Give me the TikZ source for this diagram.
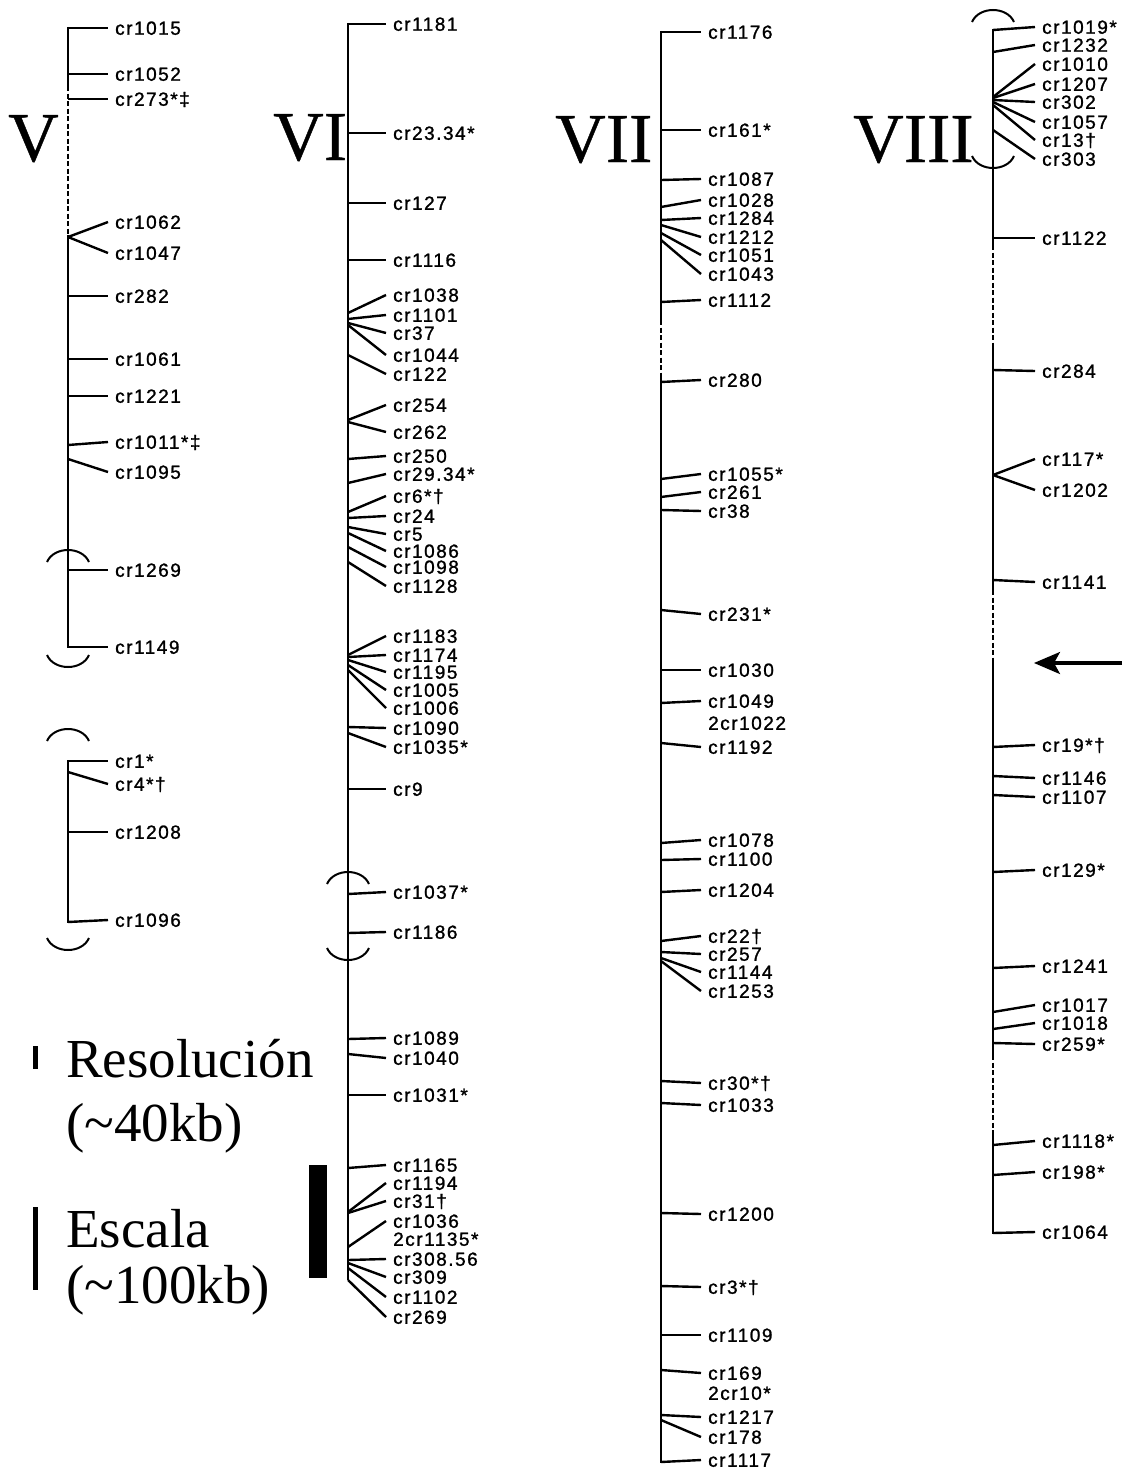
\documentclass[tikz,border=0pt]{standalone}
\usepackage{fontspec}
\setmainfont{Liberation Serif}
\newfontfamily\labfont[LetterSpace=8,FakeBold=1.2]{Liberation Sans}
\newfontfamily\bigfont[FakeBold=0.6]{Liberation Serif}
\usetikzlibrary{arrows.meta}
\begin{document}
\begin{tikzpicture}[x=1pt,y=-1pt,
 lab/.style={anchor=west, inner sep=0pt, text height=13.5pt, text depth=0pt, font=\labfont\fontsize{19}{19}\selectfont},
 tick/.style={line width=2.4pt},
 chrom/.style={line width=2.2pt},
 gap/.style={line width=2pt, dash pattern=on 5pt off 2.5pt},
 roman/.style={anchor=base west, inner sep=0pt, font=\bigfont\fontsize{70}{70}\selectfont},
 legend/.style={anchor=base west, inner sep=0pt, font=\fontsize{55}{55}\selectfont},
 captop/.pic={\draw[line width=2pt] (-21,12) .. controls (-14,-4) and (14,-4) .. (21,12);},
 capbot/.pic={\draw[line width=2pt] (-21,-12) .. controls (-14,4) and (14,4) .. (21,-12);}
]
\useasboundingbox (0,0) rectangle (1124,1472);

% ---------- Chromosome V ----------
\node[roman] (nV) at (8,161) {V};
\draw[chrom] (68,27) -- (68,86);
\draw[gap] (68,86) -- (68,235);
\draw[chrom] (68,235) -- (68,648);
\draw[chrom] (68,760) -- (68,923);
\foreach \by/\ly/\t [count=\i] in {28/28/cr1015, 74/74/cr1052, 99/99/cr273*‡,
  237/222/cr1062, 237/253/cr1047, 296/296/cr282, 359/359/cr1061, 396/396/cr1221,
  445/442/cr1011*‡, 459/472/cr1095, 570/570/cr1269, 647/647/cr1149,
  761/761/cr1*, 772/784/cr4*†, 832/832/cr1208, 922/920/cr1096}{
  \node[lab] (V\i) at (115,\ly) {\t};
  \coordinate (Vb\i) at (68,\by);
  \draw[tick] (Vb\i) -- ([xshift=-7pt]V\i.west);
}
\pic at (68,550) {captop};
\pic at (68,667) {capbot};
\pic at (68,729) {captop};
\pic at (68,950) {capbot};

% ---------- Chromosome VI ----------
\node[roman] (nVI) at (273,160) {VI};
\draw[chrom] (348,23) -- (348,1280);
\foreach \by/\ly/\t [count=\i] in {24/24/cr1181, 133/133/cr23.34*, 203/203/cr127, 260/260/cr1116,
  313/295/cr1038, 319/315/cr1101, 323/333/cr37, 325/355/cr1044, 355/374/cr122,
  420/405/cr254, 422/432/cr262, 459/456/cr250, 483/474/cr29.34*, 512/496/cr6*†,
  518/516/cr24, 527/534/cr5, 533/551/cr1086, 547/567/cr1098, 562/586/cr1128,
  655/636/cr1183, 657/655/cr1174, 660/672/cr1195, 665/690/cr1005, 670/708/cr1006,
  727/728/cr1090, 733/747/cr1035*, 789/789/cr9, 894/892/cr1037*, 933/932/cr1186,
  1039/1038/cr1089, 1054/1058/cr1040, 1095/1095/cr1031*,
  1168/1165/cr1165, 1212/1183/cr1194, 1213/1201/cr31†, 1247/1221/cr1036,
  1260/1259/cr308.56, 1263/1277/cr309, 1268/1297/cr1102, 1280/1317/cr269}{
  \node[lab] (VI\i) at (393,\ly) {\t};
  \coordinate (VIb\i) at (348,\by);
  \draw[tick] (VIb\i) -- ([xshift=-7pt]VI\i.west);
}
\node[lab] (VIx) at (393,1239) {2cr1135*};
\pic at (348,872) {captop};
\pic at (348,960) {capbot};

% ---------- Chromosome VII ----------
\node[roman] (nVII) at (555,162) {VII};
\draw[chrom] (661,31) -- (661,320);
\draw[gap] (661,320) -- (661,378);
\draw[chrom] (661,378) -- (661,1463);
\foreach \by/\ly/\t [count=\i] in {32/32/cr1176, 130/130/cr161*, 180/179/cr1087,
  207/200/cr1028, 220/218/cr1284, 225/237/cr1212, 233/255/cr1051, 240/274/cr1043,
  302/300/cr1112, 382/380/cr280, 479/474/cr1055*, 497/492/cr261, 510/511/cr38,
  610/614/cr231*, 670/670/cr1030, 703/701/cr1049, 743/747/cr1192,
  843/840/cr1078, 860/859/cr1100, 892/890/cr1204, 941/936/cr22†, 952/954/cr257,
  958/972/cr1144, 961/991/cr1253, 1081/1083/cr30*†, 1103/1105/cr1033,
  1213/1214/cr1200, 1286/1287/cr3*†, 1335/1335/cr1109, 1370/1373/cr169,
  1415/1417/cr1217, 1420/1437/cr178, 1462/1460/cr1117}{
  \node[lab] (VII\i) at (708,\ly) {\t};
  \coordinate (VIIb\i) at (661,\by);
  \draw[tick] (VIIb\i) -- ([xshift=-7pt]VII\i.west);
}
\node[lab] (VIIx) at (708,723) {2cr1022};
\node[lab] (VIIy) at (708,1393) {2cr10*};

% ---------- Chromosome VIII ----------
\node[roman] (nVIII) at (853,162) {VIII};
\draw[chrom] (993,29) -- (993,245);
\draw[gap] (993,245) -- (993,345);
\draw[chrom] (993,345) -- (993,590);
\draw[gap] (993,590) -- (993,660);
\draw[chrom] (993,660) -- (993,1055);
\draw[gap] (993,1055) -- (993,1135);
\draw[chrom] (993,1135) -- (993,1234);
\foreach \by/\ly/\t [count=\i] in {30/27/cr1019*, 52/45/cr1232, 97/64/cr1010,
  98/84/cr1207, 100/102/cr302, 102/122/cr1057, 105/140/cr13†, 130/159/cr303,
  238/238/cr1122, 370/371/cr284, 475/459/cr117*, 475/490/cr1202, 580/582/cr1141,
  747/745/cr19*†, 776/778/cr1146, 795/797/cr1107, 872/870/cr129*, 968/966/cr1241,
  1012/1005/cr1017, 1029/1023/cr1018, 1043/1044/cr259*, 1145/1141/cr1118*,
  1175/1172/cr198*, 1233/1232/cr1064}{
  \node[lab] (VIII\i) at (1042,\ly) {\t};
  \coordinate (VIIIb\i) at (993,\by);
  \draw[tick] (VIIIb\i) -- ([xshift=-7pt]VIII\i.west);
}
\pic at (993,10) {captop};
\pic at (993,168) {capbot};
\coordinate (arrS) at (1122,663);
\coordinate (arrE) at (1034,663);
\draw[line width=3.2pt, -{Stealth[length=26pt,width=22pt,inset=6pt]}] (arrS) -- (arrE);

% ---------- Legend ----------
\fill (33,1046) rectangle (38,1069);
\node[legend] (res) at (66,1077) {Resolución};
\node[legend] (res2) at (66,1141) {(\textasciitilde 40kb)};
\fill (33,1207) rectangle (38,1290);
\node[legend] (esc) at (66,1247) {Escala};
\node[legend] (esc2) at (66,1303) {(\textasciitilde 100kb)};
\fill (309,1165) rectangle (327,1278);
\end{tikzpicture}
\end{document}
